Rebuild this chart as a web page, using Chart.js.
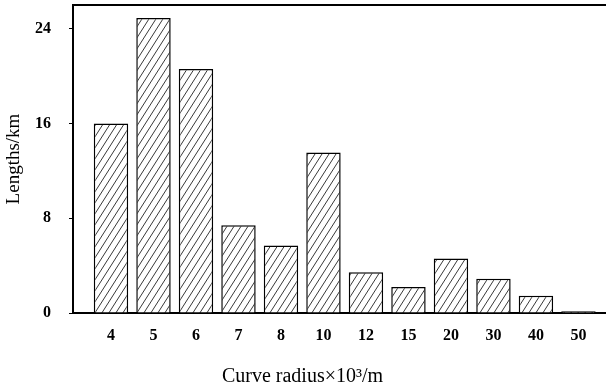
<!DOCTYPE html>
<html>
<head>
<meta charset="utf-8">
<script src="https://cdn.jsdelivr.net/npm/chart.js@4.4.1/dist/chart.umd.min.js"></script>
<style>
html,body{margin:0;padding:0;background:#fff;}
#wrap{width:606px;height:387px;}
</style>
</head>
<body>
<div id="wrap"><canvas id="c" width="606" height="387"></canvas></div>
<script>
const categories = ['4','5','6','7','8','10','12','15','20','30','40','50'];
const lengths = [16.0, 24.9, 20.6, 7.4, 5.7, 13.55, 3.45, 2.2, 4.6, 2.9, 1.45, 0.14];
const yTicks = [0, 8, 16, 24];

function hatch() {
  const w = 7, h = 11;
  const c = document.createElement('canvas');
  c.width = w; c.height = h;
  const g = c.getContext('2d');
  g.fillStyle = '#fff';
  g.fillRect(0, 0, w, h);
  g.strokeStyle = '#222';
  g.lineWidth = 0.9;
  for (const o of [-w, 0, w]) {
    g.beginPath();
    g.moveTo(o, h);
    g.lineTo(o + w, 0);
    g.stroke();
  }
  return g.createPattern(c, 'repeat');
}

const topBorder = {
  id: 'topBorder',
  afterDraw(chart) {
    const a = chart.chartArea, g = chart.ctx;
    g.save();
    g.strokeStyle = '#000';
    g.lineWidth = 2;
    g.beginPath();
    g.moveTo(a.left - 1, a.top);
    g.lineTo(chart.width, a.top);
    g.stroke();
    g.restore();
  }
};

const serif = "'Liberation Serif', 'Times New Roman', serif";
const ctx = document.getElementById('c').getContext('2d');
new Chart(ctx, {
  type: 'bar',
  data: {
    datasets: [{
      data: lengths.map((v, i) => ({ x: i, y: v })),
      backgroundColor: hatch(),
      borderColor: '#000',
      borderWidth: 1.5,
      borderSkipped: 'bottom',
      barPercentage: 0.81,
      categoryPercentage: 1.0
    }]
  },
  plugins: [topBorder],
  options: {
    responsive: false,
    animation: false,
    layout: { padding: { left: 0, right: 1, top: 5, bottom: 0 } },
    plugins: {
      legend: { display: false },
      tooltip: { enabled: false },
      title: {
        display: true,
        position: 'bottom',
        text: 'Curve radius\u00D710\u00B3/m',
        color: '#000',
        font: { family: serif, size: 20, weight: 'normal', lineHeight: 1.0 },
        padding: { top: 0, bottom: 0 }
      }
    },
    scales: {
      x: {
        type: 'linear',
        position: 'bottom',
        offset: false,
        min: -0.894,
        max: 11.625,
        afterBuildTicks: (s) => { s.ticks = categories.map((_, i) => ({ value: i })); },
        afterFit: (s) => { s.height = 54; s.paddingLeft = 0; s.paddingRight = 0; },
        grid: { display: false, drawTicks: false },
        border: { display: true, color: '#000', width: 2 },
        ticks: {
          autoSkip: false,
          maxRotation: 0,
          padding: 13,
          color: '#000',
          font: { family: serif, size: 16, weight: 'bold' },
          callback: (v) => categories[v]
        }
      },
      y: {
        min: 0,
        max: 26,
        afterBuildTicks: (s) => { s.ticks = yTicks.map(v => ({ value: v })); },
        afterFit: (s) => { s.width = 73; s.paddingTop = 0; s.paddingBottom = 0; },
        grid: { drawOnChartArea: false, drawTicks: true, tickLength: 4, color: '#000', lineWidth: 1 },
        border: { display: true, color: '#000', width: 2 },
        ticks: {
          padding: 18,
          color: '#000',
          font: { family: serif, size: 16, weight: 'bold' }
        },
        title: {
          display: true,
          text: 'Lengths/km',
          color: '#000',
          font: { family: serif, size: 19 },
          padding: { top: 3, bottom: 0 }
        }
      }
    }
  }
});
</script>
</body>
</html>
